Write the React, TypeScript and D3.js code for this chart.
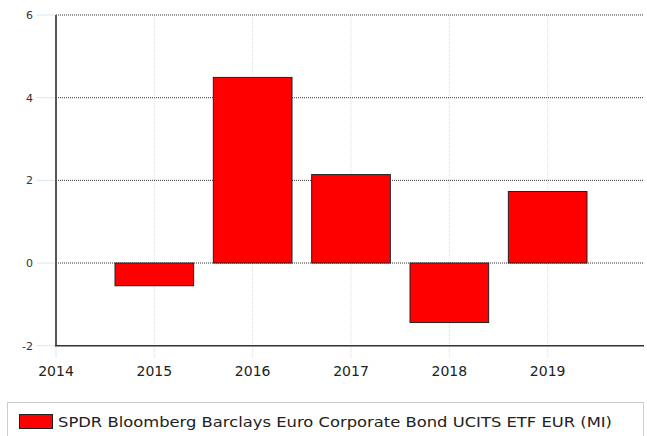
import React from "react";
import * as d3 from "d3";

const years = [2015, 2016, 2017, 2018, 2019];
const values = [-0.55, 4.49, 2.14, -1.44, 1.73];
const xTicks = [2014, 2015, 2016, 2017, 2018, 2019];
const yTicks = [-2, 0, 2, 4, 6];
const seriesName = "SPDR Bloomberg Barclays Euro Corporate Bond UCITS ETF EUR (MI)";

export default function App() {
  const W = 647, H = 436;
  const left = 56, right = 644, top = 15, bottom = 345.7;
  const x = d3.scaleLinear().domain([2014, 2020]).range([left, right + 2]);
  const y = d3.scaleLinear().domain([-2, 6]).range([bottom, top]);
  const bw = (x(2015) - x(2014)) * 0.8;
  return (
    <svg width={W} height={H} style={{ position: "absolute", left: 0, top: 0 }}>
      <rect width={W} height={H} fill="#fff" />
      {/* vertical grid */}
      {years.map((yr) => (
        <line key={"vg" + yr} x1={x(yr)} x2={x(yr)} y1={top} y2={bottom + 12} stroke="#cfe0f2" strokeDasharray="1,1" />
      ))}
      {/* y ticks (light blue) */}
      {yTicks.map((t) => (
        <line key={"yt" + t} x1={37} x2={left} y1={y(t)} y2={y(t)} stroke="#d6e6f6" />
      ))}
      {/* x tick at 2014 */}
      <line x1={x(2014)} x2={x(2014)} y1={bottom} y2={bottom + 12} stroke="#d6e6f6" />
      {/* horizontal dotted grid */}
      {yTicks.filter((t) => t > -2).map((t) => (
        <line key={"hg" + t} x1={left} x2={right} y1={y(t)} y2={y(t)} stroke="#333" strokeDasharray="1,1" />
      ))}
      {/* bars */}
      {years.map((yr, i) => {
        const v = values[i];
        const y0 = y(Math.max(0, v)), y1 = y(Math.min(0, v));
        return (
          <rect key={"b" + yr} x={x(yr) - bw / 2} y={y0} width={bw} height={y1 - y0} fill="#ff0000" stroke="#222" strokeWidth={1} />
        );
      })}
      {/* axes */}
      <line x1={left} x2={left} y1={top} y2={bottom} stroke="#555" strokeWidth={2} />
      <line x1={left - 1} x2={right} y1={bottom} y2={bottom} stroke="#333" strokeWidth={1.5} />
      {/* y labels */}
      {yTicks.map((t) => (
        <text key={"yl" + t} x={33} y={y(t) + 4} textAnchor="end" fontFamily="DejaVu Sans, sans-serif" fontSize={11} fill="#333">{t}</text>
      ))}
      {/* x labels */}
      {xTicks.map((t) => (
        <text key={"xl" + t} x={x(t)} y={376} textAnchor="middle" fontFamily="DejaVu Sans, sans-serif" fontSize={14} fill="#222">{t}</text>
      ))}
      {/* legend */}
      <rect x={7.5} y={402.5} width={636} height={40} fill="#fff" stroke="#ccc" />
      <rect x={19.5} y={414.5} width={33} height={14} fill="#ff0000" stroke="#222" />
      <text x={58} y={427} fontFamily="DejaVu Sans, sans-serif" fontSize={14.5} fill="#222" textLength={554} lengthAdjust="spacingAndGlyphs">{seriesName}</text>
    </svg>
  );
}
